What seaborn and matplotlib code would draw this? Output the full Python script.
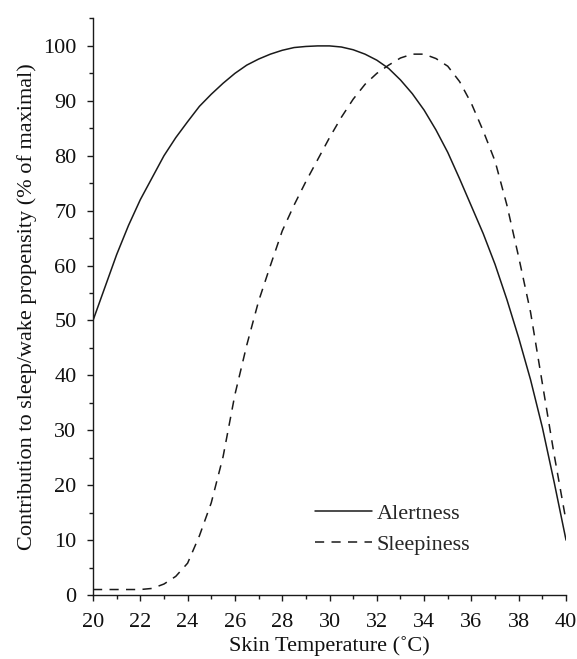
import matplotlib
matplotlib.use("Agg")
import matplotlib.pyplot as plt
from matplotlib.ticker import MultipleLocator
import pandas as pd
import seaborn as sns

# Skin temperature (°C) grid shared by both curves
temperature = [20, 20.5, 21, 21.5, 22, 22.5, 23, 23.5, 24, 24.5,
               25, 25.5, 26, 26.5, 27, 27.5, 28, 28.5, 29, 29.5,
               30, 30.5, 31, 31.5, 32, 32.5, 33, 33.5, 34, 34.5,
               35, 35.5, 36, 36.5, 37, 37.5, 38, 38.5, 39, 39.5, 40]

# Contribution to wake propensity (% of maximal)
alertness = [50, 56, 62, 67.3, 72, 76, 80, 83.3, 86.2, 89,
             91.2, 93.2, 95, 96.5, 97.6, 98.5, 99.2, 99.7, 99.9, 100,
             100, 99.8, 99.3, 98.5, 97.4, 95.9, 93.8, 91.3, 88.3, 84.7,
             80.6, 75.8, 70.8, 65.8, 60.2, 53.8, 46.8, 39.2, 30.5, 20.5, 10]

# Contribution to sleep propensity (% of maximal)
sleepiness = [1, 1, 1, 1, 1, 1.2, 2, 3.4, 5.8, 10.8,
              16.8, 25.2, 36.5, 45.5, 53.5, 60, 66.3, 71, 75.3, 79.3,
              83.3, 87, 90.3, 93, 95, 96.5, 97.8, 98.5, 98.5, 97.7,
              96.3, 93.5, 89.5, 84.5, 79, 71, 61.5, 51.5, 38.5, 25.5, 13.5]

series_names = ["Alertness", "Sleepiness"]

df = pd.DataFrame({
    "temp": temperature * 2,
    "value": alertness + sleepiness,
    "kind": [series_names[0]] * len(temperature) + [series_names[1]] * len(temperature),
})

sns.set_theme(style="ticks")
plt.rcParams["font.family"] = ["Liberation Serif", "DejaVu Serif"]
plt.rcParams["axes.edgecolor"] = "#1a1a1a"
plt.rcParams["axes.linewidth"] = 1.0

fig = plt.figure(figsize=(5.77, 6.59), dpi=100)
ax = fig.add_axes([0.1612, 0.0971, 0.8198, 0.8749])

ink = "#1a1a1a"
sns.lineplot(data=df, x="temp", y="value", style="kind",
             dashes={"Alertness": "", "Sleepiness": (6, 4.8)},
             color=ink, linewidth=1.1, ax=ax, legend=True)

ax.set_xlim(20, 40)
ax.set_ylim(0, 105)
ax.xaxis.set_major_locator(MultipleLocator(2))
ax.xaxis.set_minor_locator(MultipleLocator(1))
ax.yaxis.set_major_locator(MultipleLocator(10))
ax.yaxis.set_minor_locator(MultipleLocator(5))
ax.set_yticks(range(0, 101, 10))

ax.tick_params(which="major", length=4.3, width=1.0, color=ink,
               labelsize=16, labelcolor="#111111")
ax.tick_params(axis="x", which="major", pad=9.0)
ax.tick_params(axis="y", which="major", pad=7.6)
ax.tick_params(which="minor", length=3.0, width=1.0, color=ink)

sns.despine(ax=ax)
ax.spines["left"].set_bounds(0, 105)

ax.set_xlabel("Skin Temperature (˚C)", fontsize=16, color="#111111", labelpad=2.5)
ax.set_ylabel("Contribution to sleep/wake propensity (% of maximal)",
              fontsize=16, color="#111111", labelpad=4.5)

handles, labels = ax.get_legend_handles_labels()
ax.legend(handles, labels, loc="upper left", bbox_to_anchor=(0.469, 0.1596),
          frameon=False, fontsize=16, handlelength=2.56, handletextpad=0.22,
          labelspacing=0.47, borderpad=0, borderaxespad=0)

fig.savefig("out.png", dpi=100, facecolor="white")
